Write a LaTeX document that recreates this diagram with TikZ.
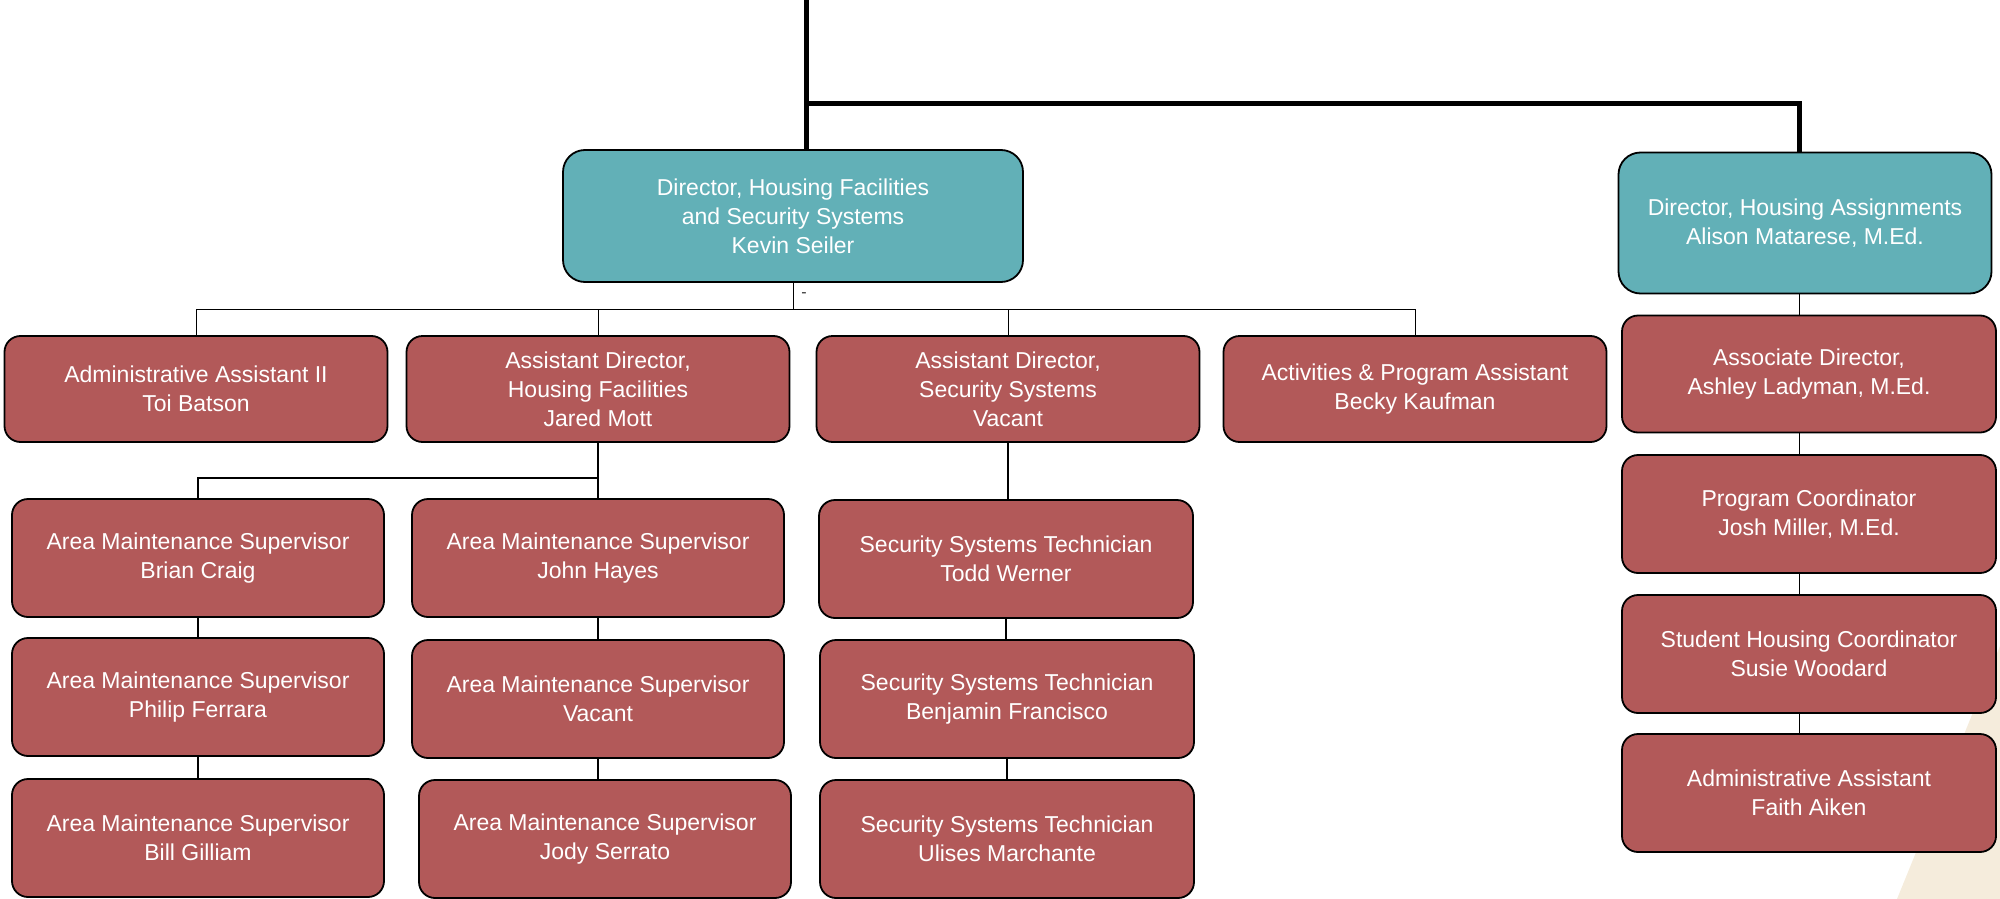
\documentclass[tikz,border=0pt]{standalone}
\usepackage{fontspec}
\setmainfont{Liberation Sans}
\usepackage{tikz}
\usetikzlibrary{positioning}
\definecolor{dirfill}{RGB}{98,176,183}
\definecolor{stafffill}{RGB}{178,89,89}
\definecolor{sandbg}{RGB}{245,236,220}

\begin{document}
\begin{tikzpicture}[x=1pt,y=-1pt,
  box/.style={draw=black, line width=1.8pt, text=white, align=center, inner sep=0pt, font=\fontsize{23}{29}\selectfont},
  dirbox/.style={box, fill=dirfill, rounded corners=22pt},
  staffbox/.style={box, fill=stafffill, rounded corners=16pt, minimum width=383pt, minimum height=106pt},
  colbox/.style={box, fill=stafffill, rounded corners=16pt, minimum width=372pt, minimum height=118pt},
  heavy/.style={line width=5pt},
  link/.style={line width=1pt},
  chain/.style={line width=2pt}]
\useasboundingbox (0,0) rectangle (2000,899);
\fill[sandbg] (1897,899) -- (2000,646) -- (2000,899) -- cycle;

% directors
\node[dirbox, minimum width=460pt, minimum height=132pt] (dirHF) at (793,216) {Director, Housing Facilities\\and Security Systems\\Kevin Seiler};
\node[dirbox, minimum width=373pt, minimum height=141pt] (dirHA) at (1805,223) {Director, Housing Assignments\\Alison Matarese, M.Ed.};
\node[font=\fontsize{16}{16}\selectfont, text=black!80] (dash) at (804,295) {-};

% second row
\node[staffbox] (adm2) at (196,389) {Administrative Assistant II\\Toi Batson};
\node[staffbox] (adhf) at (598,389) {Assistant Director,\\Housing Facilities\\Jared Mott};
\node[staffbox] (adss) at (1008,389) {Assistant Director,\\Security Systems\\Vacant};
\node[staffbox] (act) at (1415,389) {Activities \& Program Assistant\\Becky Kaufman};

% maintenance
\node[colbox] (ams1) at (198,558) {Area Maintenance Supervisor\\Brian Craig};
\node[colbox] (ams2) at (198,697) {Area Maintenance Supervisor\\Philip Ferrara};
\node[colbox] (ams3) at (198,838) {Area Maintenance Supervisor\\Bill Gilliam};
\node[colbox] (ams4) at (598,558) {Area Maintenance Supervisor\\John Hayes};
\node[colbox] (ams5) at (598,699) {Area Maintenance Supervisor\\Vacant};
\node[colbox] (ams6) at (605,839) {Area Maintenance Supervisor\\Jody Serrato};

% security
\node[colbox, minimum width=374pt] (sst1) at (1006,559) {Security Systems Technician\\Todd Werner};
\node[colbox, minimum width=374pt] (sst2) at (1007,699) {Security Systems Technician\\Benjamin Francisco};
\node[colbox, minimum width=374pt] (sst3) at (1007,839) {Security Systems Technician\\Ulises Marchante};

% assignments
\node[colbox, minimum width=374pt, minimum height=117pt] (assoc) at (1809,374) {Associate Director,\\Ashley Ladyman, M.Ed.};
\node[colbox, minimum width=374pt, minimum height=118pt] (prog) at (1809,514) {Program Coordinator\\Josh Miller, M.Ed.};
\node[colbox, minimum width=374pt, minimum height=118pt] (stud) at (1809,654) {Student Housing Coordinator\\Susie Woodard};
\node[colbox, minimum width=374pt, minimum height=118pt] (aa) at (1809,793) {Administrative Assistant\\Faith Aiken};

% connectors
\coordinate (top) at (806,0);
\coordinate (jn) at (806,103);
\coordinate (hacol) at (1799,0);
\coordinate (bar1) at (0,309);
\coordinate (bar2) at (0,478);
\draw[heavy] (top) -- (top |- dirHF.north);
\draw[heavy] (jn) -| (hacol |- dirHA.north);
\draw[link] (dirHF.south) -- (dirHF.south |- bar1);
\draw[link] (adm2.north |- bar1) -- (act.north |- bar1);
\foreach \n in {adm2,adhf,adss,act}
  \draw[link] (\n.north) -- (\n.north |- bar1);
\draw[chain] (adhf.south) -- (ams4.north);
\draw[chain] (ams1.north) -- (ams1.north |- bar2) -- (adhf.south |- bar2);
\draw[chain] (ams1.south) -- (ams2.north);
\draw[chain] (ams2.south) -- (ams3.north);
\draw[chain] (ams4.south) -- (ams5.north);
\draw[chain] (ams5.south) -- (ams5.south |- ams6.north);
\draw[chain] (adss.south) -- (adss.south |- sst1.north);
\draw[chain] (sst1.south) -- (sst1.south |- sst2.north);
\draw[chain] (sst2.south) -- (sst3.north);
\draw[link] (hacol |- dirHA.south) -- (hacol |- assoc.north);
\draw[link] (hacol |- assoc.south) -- (hacol |- prog.north);
\draw[link] (hacol |- prog.south) -- (hacol |- stud.north);
\draw[link] (hacol |- stud.south) -- (hacol |- aa.north);
\end{tikzpicture}
\end{document}
